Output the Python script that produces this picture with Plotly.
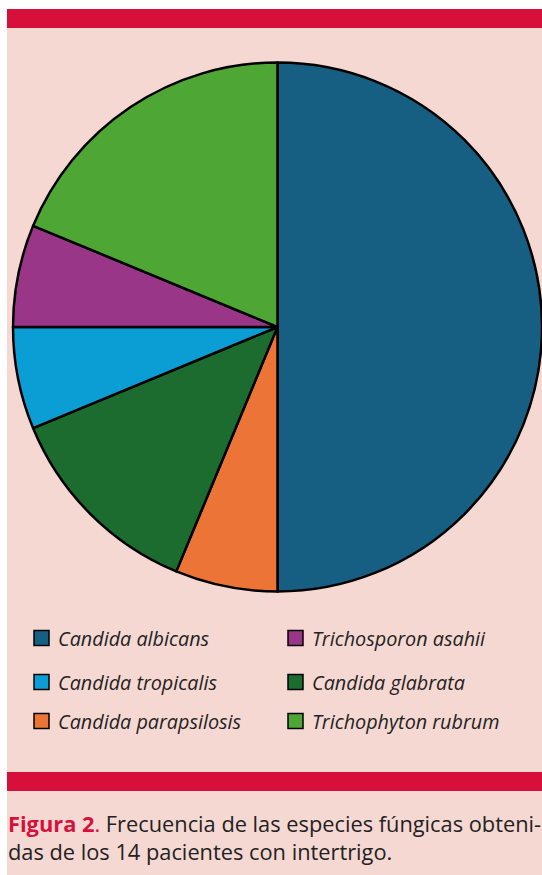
import plotly.graph_objects as go

# Data (16 isolates from 14 patients), clockwise from 12 o'clock
species = ["Candida albicans", "Candida parapsilosis", "Candida glabrata",
           "Candida tropicalis", "Trichosporon asahii", "Trichophyton rubrum"]
counts = [8, 1, 2, 1, 1, 3]
colors = ["#175F82", "#EC7436", "#1C6B2F", "#0A9ED4", "#9A3688", "#4EA634"]

# Legend layout order (row-major, two columns)
legend_order = ["Candida albicans", "Trichosporon asahii",
                "Candida tropicalis", "Candida glabrata",
                "Candida parapsilosis", "Trichophyton rubrum"]

caption_label = "Figura 2"
caption_line1 = "Frecuencia de las especies fúngicas obteni-"
caption_line2 = "das de los 14 pacientes con intertrigo."

W, H = 542, 875
PINK = "#F6D8D3"
RED = "#D6103A"
FONT = "Open Sans"

def px(x):
    return x / W

def py(y):
    return 1 - y / H

fig = go.Figure()
fig.add_trace(go.Pie(
    labels=species, values=counts, sort=False, direction="clockwise",
    rotation=0, textinfo="none", hoverinfo="label+value+percent",
    marker=dict(colors=colors, line=dict(color="black", width=2.5)),
    domain=dict(x=[px(13), 1.0], y=[py(592), py(62)]),
    showlegend=False,
))

shapes = [
    dict(type="rect", xref="paper", yref="paper", x0=0, x1=px(7), y0=0, y1=1,
         fillcolor="white", line_width=0, layer="below"),
    dict(type="rect", xref="paper", yref="paper", x0=0, x1=1, y0=py(9), y1=1,
         fillcolor="white", line_width=0, layer="below"),
    dict(type="rect", xref="paper", yref="paper", x0=px(7), x1=1, y0=py(28), y1=py(9),
         fillcolor=RED, line_width=0, layer="below"),
    dict(type="rect", xref="paper", yref="paper", x0=px(7), x1=1, y0=py(791), y1=py(772),
         fillcolor=RED, line_width=0, layer="below"),
]

annotations = []
row_y = [638, 682, 721]
col_x = [34, 288]
color_map = dict(zip(species, colors))
for i, name in enumerate(legend_order):
    r, c = divmod(i, 2)
    x0 = col_x[c]
    yc = row_y[r]
    shapes.append(dict(type="rect", xref="paper", yref="paper",
                       x0=px(x0), x1=px(x0 + 15), y0=py(yc + 7.5), y1=py(yc - 7.5),
                       fillcolor=color_map[name], line=dict(color="black", width=1.5)))
    annotations.append(dict(xref="paper", yref="paper", x=px(x0 + 22), y=py(yc),
                            xanchor="left", yanchor="middle", showarrow=False,
                            text="<i>" + name + "</i>",
                            font=dict(family=FONT, size=19.8, color="#222222")))

annotations.append(dict(xref="paper", yref="paper", x=px(6), y=py(823),
                        xanchor="left", yanchor="middle", showarrow=False,
                        text="<b><span style='color:%s'>%s</span></b><span style='color:%s'>.</span> %s"
                             % (RED, caption_label, RED, caption_line1),
                        font=dict(family=FONT, size=21.8, color="#222222")))
annotations.append(dict(xref="paper", yref="paper", x=px(6), y=py(851),
                        xanchor="left", yanchor="middle", showarrow=False,
                        text=caption_line2,
                        font=dict(family=FONT, size=21.8, color="#222222")))

fig.update_layout(
    width=W, height=H, margin=dict(l=0, r=0, t=0, b=0),
    paper_bgcolor=PINK, plot_bgcolor=PINK,
    shapes=shapes, annotations=annotations,
)

fig.write_html("out.html", config={"displayModeBar": False},
               post_script="document.body.style.margin='0px';document.body.style.overflow='hidden';")
